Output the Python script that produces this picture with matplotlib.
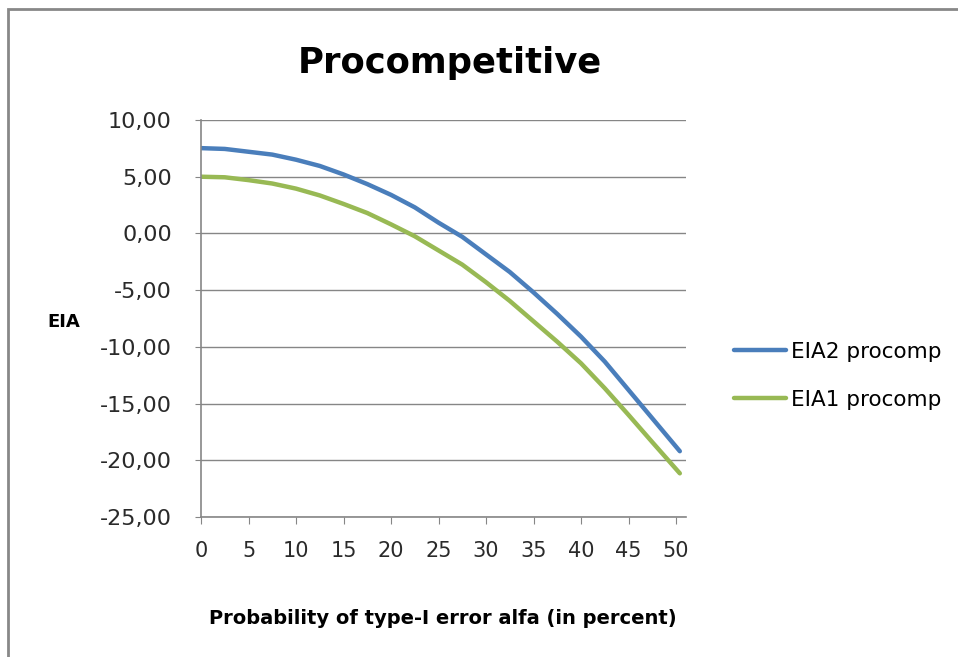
import matplotlib
matplotlib.use('Agg')
import matplotlib.pyplot as plt
from matplotlib.patches import Rectangle
from matplotlib.ticker import FuncFormatter

plt.rcParams['font.family'] = ['DejaVu Sans']

# alfa in percent
alfa = [0, 2.5, 5, 7.5, 10, 12.5, 15, 17.5, 20, 22.5, 25,
        27.5, 30, 32.5, 35, 37.5, 40, 42.5, 45, 47.5, 50.4]
eia2_procomp = [7.52, 7.45, 7.2, 6.95, 6.5, 5.95, 5.2, 4.35, 3.4, 2.3, 0.95,
                -0.3, -1.85, -3.4, -5.2, -7.1, -9.1, -11.3, -13.8, -16.3, -19.2]
eia1_procomp = [5.0, 4.95, 4.7, 4.4, 3.95, 3.35, 2.6, 1.8, 0.8, -0.25, -1.5,
                -2.75, -4.3, -5.95, -7.75, -9.55, -11.45, -13.65, -16.0, -18.4, -21.15]
xticks = [0, 5, 10, 15, 20, 25, 30, 35, 40, 45, 50]
yticks = [10, 5, 0, -5, -10, -15, -20, -25]

blue = '#4A7EBB'
green = '#98B954'
gray = '#868686'

fig = plt.figure(figsize=(9.58, 6.57), dpi=100)
# outer chart frame (cut off at right and bottom)
fig.patches.append(Rectangle((8/958, -0.05), 1.1, 1 - 9/657 + 0.05,
                             transform=fig.transFigure, fill=False,
                             edgecolor='#888888', linewidth=2))

ax = fig.add_axes([201/958, 1 - 517/657, 485/958, 397/657])
ax.plot(alfa, eia2_procomp, color=blue, linewidth=3.2, label='EIA2 procomp',
        solid_capstyle='round')
ax.plot(alfa, eia1_procomp, color=green, linewidth=3.2, label='EIA1 procomp',
        solid_capstyle='round')

ax.set_xlim(0, 51.05)
ax.set_ylim(-25, 10)
ax.set_xticks(xticks)
ax.set_yticks(yticks)
ax.yaxis.set_major_formatter(FuncFormatter(lambda v, p: ('%.2f' % v).replace('.', ',')))
ax.grid(axis='y', color=gray, linewidth=1)
ax.set_axisbelow(True)
for s in ['top', 'right']:
    ax.spines[s].set_visible(False)
for s in ['left', 'bottom']:
    ax.spines[s].set_color(gray)
    ax.spines[s].set_linewidth(1.2)
ax.tick_params(axis='x', length=5, color=gray, pad=12, labelsize=15)
ax.tick_params(axis='y', length=4, color=gray, pad=17, labelsize=16)
for lab in ax.get_xticklabels() + ax.get_yticklabels():
    lab.set_color('#2a2a2a')

fig.text(450/958, 1 - 63/657, 'Procompetitive', ha='center', va='center',
         fontsize=25.5, fontweight='bold')
fig.text(64/958, 1 - 322/657, 'EIA', ha='center', va='center',
         fontsize=13, fontweight='bold')
fig.text(443/958, 1 - 619/657, 'Probability of type-I error alfa (in percent)',
         ha='center', va='center', fontsize=14, fontweight='bold')

ax.legend(loc='center left', bbox_to_anchor=(715/958, 1 - 376/657),
          bbox_transform=fig.transFigure, frameon=False, fontsize=15.5,
          handlelength=2.4, handletextpad=0.25, labelspacing=1.3)

plt.savefig('out.png', dpi=100)
